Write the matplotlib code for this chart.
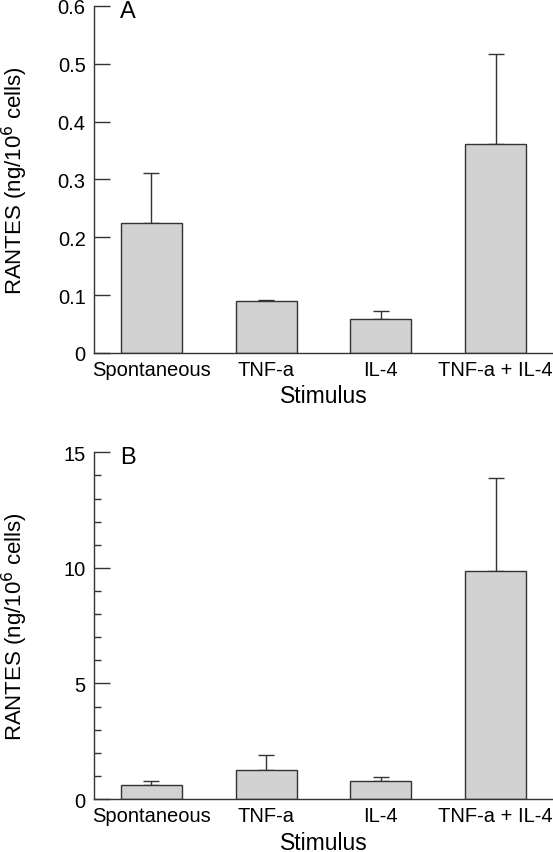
import numpy as np
import matplotlib.pyplot as plt

plt.rcParams['font.family'] = ['Liberation Sans', 'DejaVu Sans']

stimuli = ["Spontaneous", "TNF-a", "IL-4", "TNF-a + IL-4"]

# panel A, RANTES (ng/10^6 cells)
rantes_a = [0.225, 0.090, 0.059, 0.362]
err_a = [0.086, 0.002, 0.013, 0.155]

# panel B
rantes_b = [0.62, 1.25, 0.78, 9.85]
err_b = [0.17, 0.65, 0.16, 4.05]

fill = '#d2d2d2'
edge = '#333333'
fs = 14.5


def draw_panel(ax, vals, errs, letter, ymax, major, minor=None):
    x = np.arange(len(stimuli))
    ax.bar(x, vals, width=0.53, color=fill, edgecolor=edge, linewidth=1.0, zorder=2)
    ax.errorbar(x, vals, yerr=[np.zeros(len(errs)), errs], fmt='none',
                ecolor=edge, elinewidth=1.0, capsize=6, capthick=1.0, zorder=1)
    ax.set_xlim(-0.5, 3.5)
    ax.set_ylim(0, ymax)
    ax.set_xticks(x)
    ax.set_xticklabels(stimuli, fontsize=fs)
    ax.set_yticks(major)
    ax.set_yticklabels([("%g" % v) for v in major], fontsize=fs)
    if minor is not None:
        ax.set_yticks(minor, minor=True)
    ax.tick_params(axis='y', which='major', direction='in', length=11.5, width=1.0,
                   color=edge, pad=6)
    ax.tick_params(axis='y', which='minor', direction='in', length=5, width=1.0,
                   color=edge)
    ax.tick_params(axis='x', length=0, pad=5)
    for s in ["top", "right"]:
        ax.spines[s].set_visible(False)
    for s in ["left", "bottom"]:
        ax.spines[s].set_color(edge)
        ax.spines[s].set_linewidth(1.0)
    ax.set_xlabel("Stimulus", fontsize=16.5, labelpad=4)
    ax.set_ylabel("RANTES (ng/10$^6$ cells)", fontsize=16, va='center')
    ax.yaxis.set_label_coords(-0.172, 0.5)
    ax.text(0.074, 0.985, letter, transform=ax.transAxes, fontsize=17,
            ha='center', va='center')


fig = plt.figure(figsize=(5.53, 8.53), dpi=100)
ax_a = fig.add_axes([0.170, 0.585, 0.830, 0.407])
ax_b = fig.add_axes([0.170, 0.0621, 0.830, 0.4065])

draw_panel(ax_a, rantes_a, err_a, "A", 0.6, np.arange(0, 0.61, 0.1))
draw_panel(ax_b, rantes_b, err_b, "B", 15, [0, 5, 10, 15], np.arange(0, 16, 1))

fig.savefig("out.png", dpi=100)
